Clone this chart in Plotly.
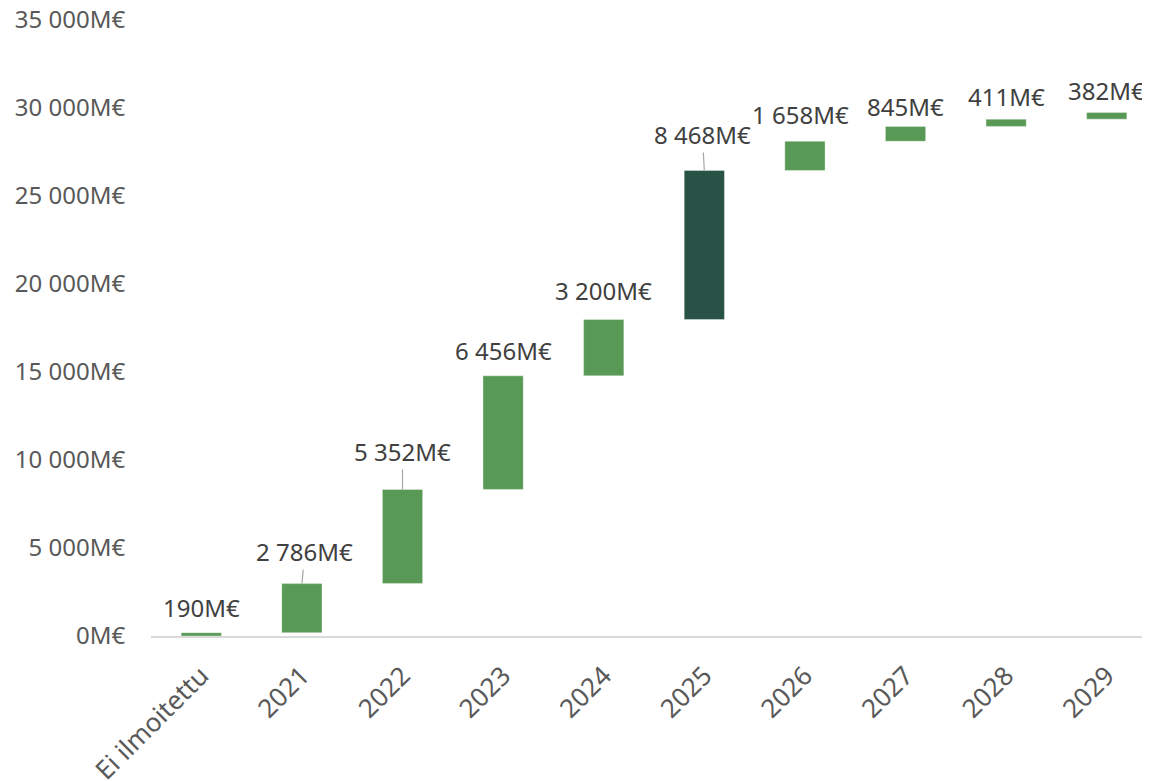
import numpy as np
import plotly.graph_objects as go

categories = ["Ei ilmoitettu", "2021", "2022", "2023", "2024", "2025", "2026", "2027", "2028", "2029"]
values = [190, 2786, 5352, 6456, 3200, 8468, 1658, 845, 411, 382]
highlight = "2025"

GREEN = "#589A55"
DARK = "#285245"

tops = np.cumsum(values).tolist()
bases = [t - v for t, v in zip(tops, values)]
colors = [DARK if c == highlight else GREEN for c in categories]

fig = go.Figure()
fig.add_trace(go.Bar(
    x=list(categories), y=list(values), base=bases,
    marker=dict(color=colors, line=dict(width=1, color="rgba(255,255,255,0.35)")),
    width=0.4, hoverinfo="skip", showlegend=False,
))

# label offsets (pixels) and whether a leader line is drawn
label_off = [(0, -25, False), (3, -32, True), (0, -38, True), (0, -25, False), (0, -29, False),
             (-2, -36, True), (-4, -27, False), (0, -20, False), (0, -23, False), (0, -22, False)]

def fmt(v):
    return f"{int(v):,}".replace(",", " ") + "M€"

for i, (v, t, (dx, dy, leader)) in enumerate(zip(values, tops, label_off)):
    fig.add_annotation(
        x=i, y=t, text=fmt(v), showarrow=True, ax=dx, ay=dy,
        arrowhead=0, arrowwidth=1.2, standoff=0,
        arrowcolor="#A6A6A6" if leader else "rgba(0,0,0,0)",
        font=dict(size=24, color="#404040", family="Noto Sans"),
    )

# the page adds an 8px body margin, so the figure is sized to fit the window
fig.update_layout(
    width=1142, height=773,
    margin=dict(l=143, r=0, t=12, b=145),
    plot_bgcolor="white", paper_bgcolor="white",
    separators=", ",
    font=dict(family="Noto Sans", size=24, color="#595959"),
)
fig.update_xaxes(
    type="category", categoryorder="array", categoryarray=categories,
    range=[-0.5, 9.43], automargin=False, ticklabeloverflow="allow",
    tickangle=-45, showgrid=False, showline=True, linecolor="#D9D9D9", linewidth=2,
    tickfont=dict(size=26, color="#595959"),
    ticks="outside", ticklen=12, tickcolor="rgba(0,0,0,0)",
)
fig.update_yaxes(
    range=[0, 35000], dtick=5000, tickformat=",.0f", ticksuffix="M€",
    showgrid=False, showline=False, zeroline=False, automargin=False,
    ticklabeloverflow="allow",
    ticks="outside", ticklen=20, tickcolor="rgba(0,0,0,0)",
    tickfont=dict(size=24, color="#595959"),
)

fig.write_html("out.html")
